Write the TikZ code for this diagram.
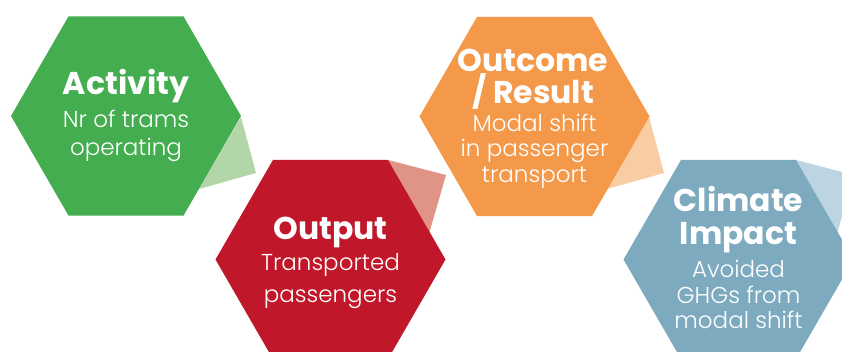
\documentclass[tikz,border=0pt]{standalone}
\usepackage{fontspec}
\usetikzlibrary{shapes.geometric}
\newfontfamily\ttlfont{Poppins}[UprightFont={* Bold}]
\newfontfamily\bodyfont{Poppins}[UprightFont={* Light}]
\definecolor{cgreen}{HTML}{43AD4F}
\definecolor{cgreenl}{HTML}{B3D6A9}
\definecolor{cred}{HTML}{C0182A}
\definecolor{credl}{HTML}{E09485}
\definecolor{corange}{HTML}{F4994A}
\definecolor{corangel}{HTML}{F9CDA3}
\definecolor{cblue}{HTML}{7EAAC0}
\definecolor{cbluel}{HTML}{BDD5E2}
\tikzset{
  hexa/.style={regular polygon, regular polygon sides=6, minimum size=230pt, inner sep=0pt, outer sep=0pt, draw=none},
  ttl/.style={anchor=base, text=white, inner sep=0pt, font=\ttlfont\fontsize{31.5}{34}\selectfont},
  bdy/.style={anchor=base, text=white, inner sep=0pt, font=\bodyfont\fontsize{23}{28}\selectfont},
}
\begin{document}
\begin{tikzpicture}[x=1pt,y=-1pt]
\useasboundingbox (0,0) rectangle (842,352);
\clip (0,0) rectangle (842,352);
% flaps
\coordinate (f1a) at (241,117); \coordinate (f1b) at (256,173); \coordinate (f1c) at (199,189);
\coordinate (f2a) at (388,160); \coordinate (f2b) at (446,175); \coordinate (f2c) at (429.5,232);
\coordinate (f3a) at (649,117); \coordinate (f3b) at (664,173); \coordinate (f3c) at (607,189);
\coordinate (f4a) at (796,160); \coordinate (f4b) at (854,175); \coordinate (f4c) at (837.5,232);
\fill[cgreenl] (f1a) -- (f1b) -- (f1c) -- cycle;
\fill[credl] (f2a) -- (f2b) -- (f2c) -- cycle;
\fill[corangel] (f3a) -- (f3b) -- (f3c) -- cycle;
\fill[cbluel] (f4a) -- (f4b) -- (f4c) -- cycle;
% hexagons
\node[hexa, fill=cgreen] (h1) at (126,116) {};
\node[hexa, fill=cred] (h2) at (330.5,259.5) {};
\node[hexa, fill=corange] (h3) at (534.5,116.5) {};
\node[hexa, fill=cblue] (h4) at (738.5,259.5) {};
% texts
\node[ttl] (t1a) at (126,95) {Activity};
\node[bdy] (t1b) at (126,128) {Nr of trams};
\node[bdy] (t1c) at (126,156) {operating};
\node[ttl] (t2a) at (330.5,240) {Output};
\node[bdy] (t2b) at (330.5,271) {Transported};
\node[bdy] (t2c) at (330.5,302) {passengers};
\node[ttl] (t3a) at (533,72) {Outcome};
\node[ttl] (t3b) at (533,104) {/ Result};
\node[bdy] (t3c) at (534.5,132) {Modal shift};
\node[bdy] (t3d) at (534.5,157) {in passenger};
\node[bdy] (t3e) at (534.5,183) {transport};
\node[ttl] (t4a) at (738.5,212) {Climate};
\node[ttl] (t4b) at (738.5,245) {Impact};
\node[bdy] (t4c) at (738.5,277) {Avoided};
\node[bdy] (t4d) at (738.5,303) {GHGs from};
\node[bdy] (t4e) at (738.5,328) {modal shift};
\end{tikzpicture}
\end{document}
